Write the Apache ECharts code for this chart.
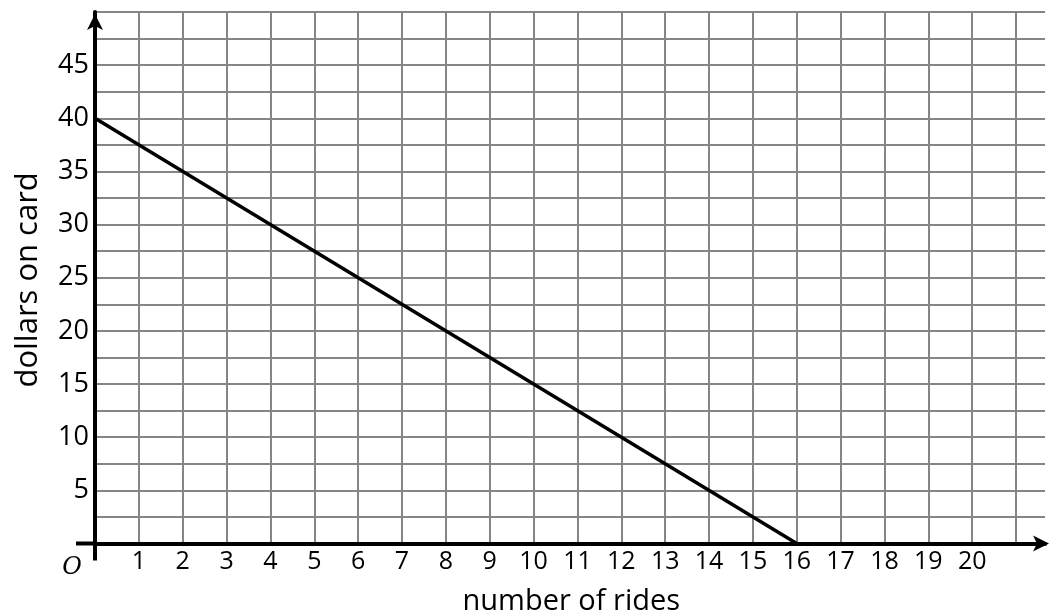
<!DOCTYPE html>
<html>
<head>
<meta charset="utf-8">
<script src="https://cdn.jsdelivr.net/npm/echarts@6/dist/echarts.min.js"></script>
<style>
html,body{margin:0;padding:0;background:#fff;}
#chart{width:1049px;height:614px;}
</style>
</head>
<body>
<div id="chart"></div>
<script>
// Data
var rides = [0, 16];
var dollars = [40, 0];
var xTickLabels = [1,2,3,4,5,6,7,8,9,10,11,12,13,14,15,16,17,18,19,20];
var yTickLabels = [5,10,15,20,25,30,35,40,45];
var xName = 'number of rides';
var yName = 'dollars on card';
var originLabel = 'O';

var FONT = 'Open Sans';
var chart = echarts.init(document.getElementById('chart'));

var option = {
  animation: false,
  backgroundColor: '#fff',
  grid: { left: 95, top: 12, right: 4, bottom: 70.5, containLabel: false },
  xAxis: {
    type: 'value',
    min: 0,
    max: 21.66,
    interval: 1,
    axisLine: { show: true, onZero: true, lineStyle: { color: '#000', width: 4 },
      symbol: ['none', 'arrow'], symbolSize: [12, 16], symbolOffset: [0, 4] },
    axisTick: { show: false },
    splitLine: { show: true, showMinLine: false, showMaxLine: false, lineStyle: { color: '#858585', width: 2 } },
    axisLabel: {
      margin: 6, fontFamily: FONT, fontSize: 25, color: '#000',
      showMaxLabel: false,
      formatter: function (v) { return xTickLabels.indexOf(v) >= 0 ? String(v) : ''; }
    },
    z: 5
  },
  yAxis: {
    type: 'value',
    min: 0,
    max: 50,
    interval: 2.5,
    axisLine: { show: true, onZero: true, lineStyle: { color: '#000', width: 4 },
      symbol: ['none', 'arrow'], symbolSize: [12, 16], symbolOffset: [0, -2] },
    axisTick: { show: false },
    splitLine: { show: true, showMinLine: false, lineStyle: { color: '#858585', width: 2 } },
    axisLabel: {
      margin: 6, fontFamily: FONT, fontSize: 27, color: '#000',
      formatter: function (v) { return yTickLabels.indexOf(v) >= 0 ? String(v) : ''; }
    },
    z: 5
  },
  series: [{
    type: 'line',
    data: rides.map(function (r, i) { return [r, dollars[i]]; }),
    symbol: 'none',
    lineStyle: { color: '#000', width: 3.5 },
    z: 10
  }]
};
chart.setOption(option);

// Axis extensions and labels, placed from the axes' own scales
var o = chart.convertToPixel({ gridIndex: 0 }, [0, 0]);
var xMid = chart.convertToPixel({ xAxisIndex: 0 }, 10.86);
var yMid = chart.convertToPixel({ yAxisIndex: 0 }, 24.8);
chart.setOption({
  graphic: [
    { type: 'line', shape: { x1: o[0] - 19, y1: o[1], x2: o[0], y2: o[1] }, style: { stroke: '#000', lineWidth: 4 }, z: 20 },
    { type: 'line', shape: { x1: o[0], y1: o[1], x2: o[0], y2: o[1] + 17 }, style: { stroke: '#000', lineWidth: 4 }, z: 20 },
    { type: 'text', x: o[0] - 23, y: o[1] + 24, style: { text: originLabel, font: 'italic 24px "DejaVu Serif"', fill: '#000', align: 'center', verticalAlign: 'middle' }, z: 20 },
    { type: 'text', x: xMid, y: o[1] + 58, style: { text: xName, font: '29px "' + FONT + '"', fill: '#000', align: 'center', verticalAlign: 'middle' }, z: 20 },
    { type: 'text', x: 28, y: yMid, rotation: Math.PI / 2, style: { text: yName, font: '31px "' + FONT + '"', fill: '#000', align: 'center', verticalAlign: 'middle' }, z: 20 }
  ]
});
</script>
</body>
</html>
